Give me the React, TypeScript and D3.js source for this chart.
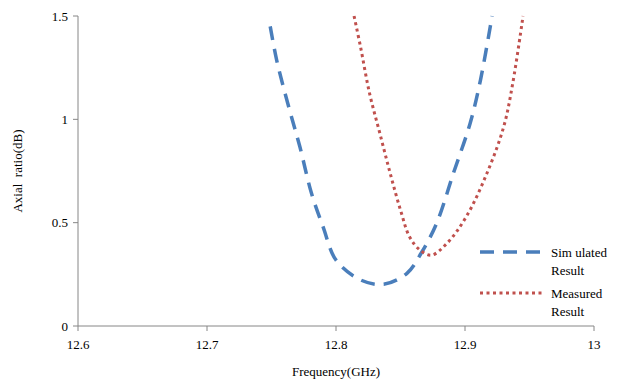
import React from 'react';
import * as d3 from 'd3';

const simFreq = [12.749, 12.754, 12.764, 12.772, 12.781, 12.79, 12.8, 12.819, 12.837, 12.855, 12.866, 12.878, 12.891, 12.904, 12.912, 12.921];
const simAR = [1.45, 1.287, 1.045, 0.867, 0.642, 0.48, 0.319, 0.223, 0.202, 0.255, 0.352, 0.497, 0.739, 0.981, 1.19, 1.5];

const measFreq = [12.814, 12.819, 12.826, 12.834, 12.842, 12.85, 12.857, 12.865, 12.874, 12.886, 12.901, 12.917, 12.93, 12.937, 12.945];
const measAR = [1.5, 1.351, 1.126, 0.932, 0.739, 0.561, 0.432, 0.368, 0.343, 0.4, 0.529, 0.739, 0.964, 1.174, 1.5];

const xTicks = [12.6, 12.7, 12.8, 12.9, 13];
const yTicks = [0, 0.5, 1, 1.5];

const W = 619;
const H = 383;
const axisColor = '#868686';
const txt = { fontFamily: "'Times New Roman', Times, 'Liberation Serif', serif", fontSize: 13, fill: '#000' };

export default function App() {
  const x = d3.scaleLinear().domain([12.6, 13]).range([78, 594]);
  const y = d3.scaleLinear().domain([0, 1.5]).range([326, 16]);

  const line = d3
    .line<[number, number]>()
    .x(d => x(d[0]))
    .y(d => y(d[1]))
    .curve(d3.curveCatmullRom.alpha(0.5));

  const simPts = simFreq.map((f, i) => [f, simAR[i]] as [number, number]);
  const measPts = measFreq.map((f, i) => [f, measAR[i]] as [number, number]);

  return (
    <svg
      width={W}
      height={H}
      style={{ position: 'absolute', left: 0, top: 0, background: '#fff' }}
    >
      <defs>
        <clipPath id="plot">
          <rect x={78} y={14} width={520} height={314} />
        </clipPath>
      </defs>

      {/* axes */}
      <line x1={x(12.6)} x2={x(12.6)} y1={y(1.5)} y2={y(0)} stroke={axisColor} />
      <line x1={x(12.6)} x2={x(13)} y1={y(0)} y2={y(0)} stroke={axisColor} />
      {yTicks.map(t => (
        <g key={'y' + t}>
          <line x1={x(12.6) - 5} x2={x(12.6)} y1={y(t)} y2={y(t)} stroke={axisColor} />
          <text x={x(12.6) - 10} y={y(t)} dy="0.35em" textAnchor="end" style={txt}>
            {t}
          </text>
        </g>
      ))}
      {xTicks.map(t => (
        <g key={'x' + t}>
          <line x1={x(t)} x2={x(t)} y1={y(0)} y2={y(0) + 5} stroke={axisColor} />
          <text x={x(t)} y={y(0) + 23} textAnchor="middle" style={txt}>
            {t}
          </text>
        </g>
      ))}

      {/* axis titles */}
      <text x={336} y={376} textAnchor="middle" style={txt}>
        Frequency(GHz)
      </text>
      <text
        transform={`translate(22, ${y(0.75)}) rotate(-90)`}
        textAnchor="middle"
        style={{ ...txt, whiteSpace: 'pre' }}
      >
        Axial  ratio(dB)
      </text>

      {/* series */}
      <g clipPath="url(#plot)">
        <path d={line(simPts) || ''} fill="none" stroke="#4A7EBB" strokeWidth={3.5} strokeDasharray="14,9" />
        <path d={line(measPts) || ''} fill="none" stroke="#C0504D" strokeWidth={3} strokeDasharray="3,3.5" />
      </g>

      {/* legend */}
      <line x1={480} x2={543} y1={252} y2={252} stroke="#4A7EBB" strokeWidth={3.5} strokeDasharray="14,9" />
      <text x={551} y={252} dy="0.35em" style={txt}>Sim ulated</text>
      <text x={551} y={270} dy="0.35em" style={txt}>Result</text>
      <line x1={480} x2={543} y1={293} y2={293} stroke="#C0504D" strokeWidth={3} strokeDasharray="3,3.5" />
      <text x={551} y={293} dy="0.35em" style={txt}>Measured</text>
      <text x={551} y={311} dy="0.35em" style={txt}>Result</text>
    </svg>
  );
}
